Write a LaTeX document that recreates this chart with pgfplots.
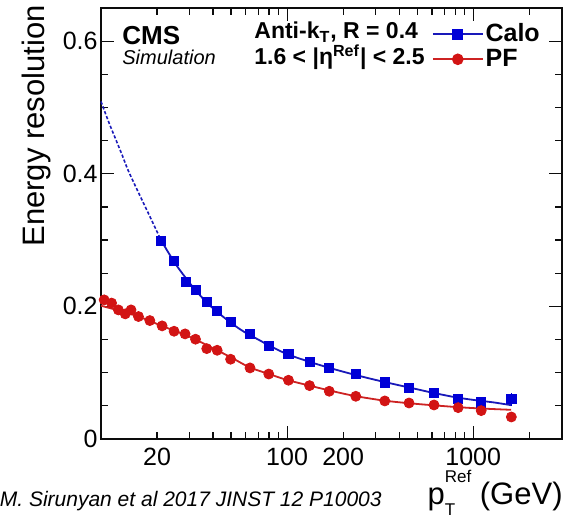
\documentclass[border=0pt]{standalone}
\usepackage{fontspec}
\setmainfont{Liberation Sans}
\usepackage{pgfplots}
\pgfplotsset{compat=1.18}
\definecolor{calo}{RGB}{0,0,215}
\definecolor{calofit}{RGB}{25,25,185}
\definecolor{pf}{RGB}{210,20,20}
\definecolor{pffit}{RGB}{205,35,35}
\definecolor{axcol}{RGB}{12,12,12}
\pgfplotsset{lplegend/.style={legend image code/.code={\draw[##1, mark repeat=2, mark phase=2] plot coordinates {(0pt,0pt) (12.5pt,0pt) (25pt,0pt)};}},
 tk/.style={axcol, line width=0.6pt, mark=none, forget plot},
 fr/.style={axcol, line width=0.9pt, line cap=rect, mark=none, forget plot}}
\begin{document}
\begin{tikzpicture}
\begin{axis}[
 at={(50.5pt,40.5pt)}, anchor=south west,
 scale only axis, width=230.5pt, height=215.5pt,
 xmode=log, xmin=10, xmax=3000, ymin=0, ymax=0.65,
 clip=false,
 axis line style={draw=none},
 tick style={draw=none},
 tick align=inside,
 xtick={10,100,1000}, xticklabels={,100,1000},
 extra x ticks={20,200}, extra x tick labels={20,200},
 ytick={0,0.2,0.4,0.6}, yticklabels={0,0.2,0.4,0.6},
 /pgf/number format/assume math mode=true,
 ticklabel style={font=\fontsize{12.5}{12.5}\selectfont},
 xticklabel style={inner sep=0pt, yshift=-4.5pt},
 yticklabel style={inner sep=0pt, xshift=-1.5pt},
 legend style={at={(rel axis cs:0.718,0.968)}, anchor=north west, draw=none, fill=none,
   inner sep=0pt, outer sep=0pt, row sep=0pt,
   font=\fontsize{12.5}{12.5}\selectfont\bfseries,
   nodes={inner sep=1pt, text height=9pt, text depth=1.5pt}},
 legend cell align=left,
]
% frame
\addplot[fr] coordinates {(10,0) (3000,0)};
\addplot[fr] coordinates {(10,0.65) (3000,0.65)};
\addplot[fr] coordinates {(10,0) (10,0.65)};
\addplot[fr] coordinates {(3000,0) (3000,0.65)};
% ticks (inside, on all four sides)
\pgfplotsinvokeforeach{20,30,40,50,60,70,80,90,200,300,400,500,600,700,800,900,2000}{
 \addplot[tk] coordinates {(#1,0) (#1,0.0100)};
 \addplot[tk] coordinates {(#1,0.65) (#1,0.6400)};}
\pgfplotsinvokeforeach{100,1000}{
 \addplot[tk] coordinates {(#1,0) (#1,0.0196)};
 \addplot[tk] coordinates {(#1,0.65) (#1,0.6304)};}
\pgfplotsinvokeforeach{0.05,0.1,0.15,0.25,0.3,0.35,0.45,0.5,0.55}{
 \addplot[tk] coordinates {(10,#1) (10.852,#1)};
 \addplot[tk] coordinates {(3000,#1) (2764.5,#1)};}
\pgfplotsinvokeforeach{0.2,0.4,0.6}{
 \addplot[tk] coordinates {(10,#1) (11.746,#1)};
 \addplot[tk] coordinates {(3000,#1) (2554,#1)};}
% fits
\addplot[calofit, line width=0.8pt, dash pattern=on 1.6pt off 1pt, smooth, forget plot] coordinates {
 (10,0.509) (11,0.478) (12,0.452) (13,0.428) (14,0.405) (16,0.370) (18,0.340) (21,0.300)};
\addplot[calofit, line width=0.9pt, smooth, forget plot] coordinates {
 (21,0.300) (25,0.265) (30,0.235) (35,0.213) (40,0.197) (50,0.175) (60,0.160) (70,0.150)
 (80,0.141) (100,0.128) (130,0.117) (170,0.107) (230,0.097) (300,0.089) (400,0.081)
 (500,0.075) (600,0.070) (800,0.063) (1000,0.059) (1300,0.055) (1600,0.051)};
\addplot[pffit, line width=0.9pt, smooth, forget plot] coordinates {
 (10,0.201) (12,0.195) (15,0.187) (18,0.179) (21,0.171) (25,0.163) (30,0.154) (35,0.145)
 (40,0.137) (50,0.123) (63,0.108) (80,0.098) (100,0.089) (130,0.081) (170,0.073)
 (230,0.065) (330,0.058) (450,0.054) (600,0.051) (830,0.048) (1100,0.046) (1600,0.044)};
% error bar of the last Calo point
\addplot[calo, line width=0.6pt, mark=none, forget plot] coordinates {(1603,0.0505) (1603,0.0695)};
% data
\addplot[only marks, mark=square*, mark size=2.3pt, calo, forget plot] coordinates {
 (21.0,0.299) (24.7,0.2687) (28.5,0.237) (32.2,0.225) (37.0,0.207) (42.1,0.1937)
 (49.7,0.177) (63.2,0.158) (79.7,0.140) (101.7,0.128) (132,0.1167) (168.5,0.1076)
 (234,0.098) (335,0.0855) (452,0.0765) (616,0.069) (830,0.061) (1104,0.0553) (1603,0.060)};
\addplot[only marks, mark=*, mark size=2.5pt, pf, forget plot] coordinates {
 (10.4,0.2098) (11.4,0.205) (12.4,0.1947) (13.5,0.1887) (14.5,0.1947) (15.9,0.1847)
 (18.3,0.1786) (21.3,0.1706) (24.7,0.1625) (28.3,0.1585) (32.2,0.1505) (37.0,0.1363)
 (42.1,0.1338) (49.7,0.1203) (63.2,0.1072) (79.7,0.098) (101.7,0.0886) (132,0.0805)
 (168.5,0.072) (234,0.0644) (335,0.0574) (452,0.0543) (616,0.0513) (830,0.0473)
 (1104,0.0428) (1603,0.0332)};
\addlegendimage{calofit, line width=0.8pt, mark=square*, mark size=2.3pt, mark options={calo, fill=calo}, lplegend}
\addlegendentry{Calo}
\addlegendimage{pffit, line width=0.8pt, mark=*, mark size=2.5pt, mark options={pf, fill=pf}, lplegend}
\addlegendentry{PF}
\end{axis}
\begin{scope}[x=0.5pt, y=-0.5pt, yshift=260pt]
\node[anchor=base west, inner sep=0pt, font=\fontsize{13}{13}\selectfont\bfseries] at (122,45) {CMS};
\node[anchor=base west, inner sep=0pt, font=\fontsize{10}{10}\selectfont\itshape] at (122,65) {Simulation};
\node[anchor=base west, inner sep=0pt, font=\fontsize{11.5}{11.5}\selectfont\bfseries] at (254,39) {Anti-k\textsubscript{T}, R = 0.4};
\node[anchor=base west, inner sep=0pt, font=\fontsize{11.5}{11.5}\selectfont\bfseries] at (254,65) {1.6 < |η\textsuperscript{Ref}| < 2.5};
\node[rotate=90, anchor=base east, inner sep=0pt, font=\fontsize{15.5}{15.5}\selectfont] at (44,5) {Energy resolution};
\node[anchor=base east, inner sep=0pt, font=\fontsize{15.5}{15.5}\selectfont] at (563,504)
 {p\rlap{\raisebox{10.5pt}{\fontsize{8.5}{8.5}\selectfont Ref}}\raisebox{-6pt}{\fontsize{8.5}{8.5}\selectfont T}\hspace{8pt} (GeV)};
\node[anchor=base east, inner sep=0pt, font=\fontsize{10.5}{10.5}\selectfont\itshape] at (382,507) {M. Sirunyan et al 2017 JINST 12 P10003};
\end{scope}
\pgfresetboundingbox
\path[use as bounding box] (0,0) rectangle (289.5pt,260pt);
\end{tikzpicture}
\end{document}
